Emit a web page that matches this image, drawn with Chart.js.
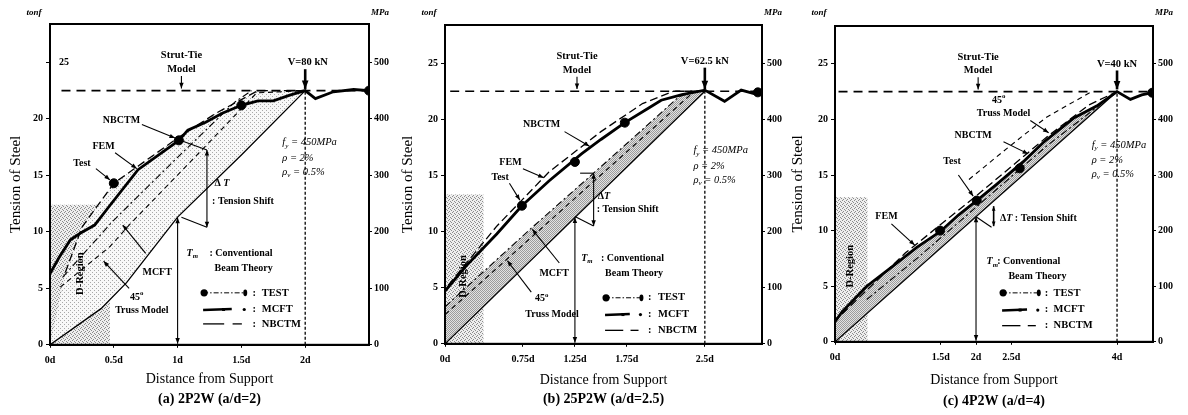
<!DOCTYPE html>
<html><head><meta charset="utf-8">
<script src="https://cdn.jsdelivr.net/npm/chart.js@4.4.1/dist/chart.umd.min.js"></script>
<style>
html,body{margin:0;padding:0;background:#fff;width:1188px;height:415px;overflow:hidden}
.p{position:absolute;top:0;height:415px}
canvas{display:block}
</style></head><body>
<div class="p" style="left:0;width:392px"><canvas id="ca" width="392" height="415"></canvas></div>
<div class="p" style="left:392px;width:390px"><canvas id="cb" width="390" height="415"></canvas></div>
<div class="p" style="left:782px;width:406px"><canvas id="cc" width="406" height="415"></canvas></div>
<script>
// ---------------- data ----------------
const FY_TONF = 22.5;          // 450 MPa expressed in tonf
const MPA_PER_TONF = 20;
const Y_MAX = 28.4;
const Y_TICKS = [0, 5, 10, 15, 20, 25];
const MPA_TICKS = [0, 100, 200, 300, 400, 500];

// (a) 2P2W (a/d=2)
const A_XTICKS = [0, 0.5, 1, 1.5, 2];
const A_LOAD = 2;
const A_TEST = [[0.5,14.3],[1.01,18.1],[1.5,21.2],[2.5,22.5]];
const A_FEM = [[0,6.3],[0.07,7.7],[0.16,9.3],[0.24,9.9],[0.35,10.6],[0.46,12.2],[0.69,15.5],[1.01,18.1],[1.08,19.0],[1.22,19.7],[1.35,20.5],[1.5,21.2],[1.63,21.6],[1.75,21.6],[1.88,22.1],[2.0,22.5],[2.08,21.8],[2.22,22.4],[2.38,22.6],[2.5,22.5]];
const A_NBCTM = [[0.12,6.4],[0.25,10.4],[0.5,14.3],[1.0,18.3],[1.3,20.5],[1.63,22.5],[2.0,22.5]];
const A_MCFT = [[0.1,6.0],[0.48,10.8],[1.0,16.6],[1.45,21.5],[1.58,22.5]];
const A_TRUSS = [[0.08,5.1],[0.47,8.7],[0.62,10.6],[1.1,16.2],[1.62,22.3],[2.0,22.5]];
const A_TM = [[0,0],[0.4,3.2],[0.6,5.5],[1.0,11.3],[1.5,16.8],[2.0,22.5]];
const A_DREGION = [0.47, 12.4];

// (b) 25P2W (a/d=2.5)
const B_XTICKS = [0, 0.75, 1.25, 1.75, 2.5];
const B_LOAD = 2.5;
const B_TEST = [[0.74,12.3],[1.25,16.2],[1.73,19.7],[3.01,22.4]];
const B_FEM = [[0,4.7],[0.2,6.9],[0.5,9.8],[0.74,12.3],[1.0,14.5],[1.31,16.9],[1.5,18.2],[1.73,19.7],[1.96,21.0],[2.08,21.7],[2.28,22.2],[2.5,22.6],[2.69,21.6],[2.85,22.6],[3.01,22.2]];
const B_NBCTM = [[0.03,5.2],[0.5,10.5],[1.0,15.3],[1.5,18.9],[1.9,21.4],[2.2,22.5],[2.5,22.5]];
const B_MCFT = [[0,3.3],[0.83,10.3],[1.6,16.6],[2.25,22.0],[2.4,22.5]];
const B_TRUSS = [[0,2.6],[2.4,22.5]];
const B_TM = [[0,0],[2.5,22.5]];
const B_DREGION = [0.37, 13.3];

// (c) 4P2W (a/d=4)
const C_XTICKS = [0, 1.5, 2, 2.5, 4];
const C_LOAD = 4;
const C_TEST = [[1.49,10.0],[2.01,12.7],[2.62,15.6],[4.5,22.4]];
const C_FEM = [[0,1.8],[0.1,2.7],[0.45,5.0],[0.78,6.6],[1.16,8.5],[1.49,9.9],[1.75,11.4],[2.01,12.7],[2.3,14.2],[2.67,16.2],[2.95,17.9],[3.38,20.1],[3.71,21.2],[4.0,22.5],[4.19,21.8],[4.35,22.2],[4.5,22.4]];
const C_NBCTM = [[0.1,2.5],[1.0,8.0],[2.0,13.1],[3.0,18.4],[3.6,21.3],[4.0,22.5]];
const C_MCFT = [[0.45,3.8],[1.2,7.7],[2.0,12.1],[3.0,17.6],[4.0,22.5]];
const C_TRUSS = [[1.9,14.6],[2.44,17.4],[3.0,20.2],[3.64,22.5]];
const C_TM = [[0,0],[4,22.5]];
const C_DREGION = [0.46, 13.0];

// ---------------- drawing helpers ----------------
const SERIF = "'Liberation Serif', 'Times New Roman', serif";
Chart.defaults.font.family = SERIF;
Chart.defaults.color = '#000';

function fontStr(size, st) {
  const it = st.indexOf('i') >= 0 ? 'italic ' : '';
  const b = st.indexOf('b') >= 0 ? 'bold ' : '';
  return it + b + size + 'px ' + SERIF;
}
function drawParts(ctx, parts, x, y, align, size) {
  let total = 0; const ms = [];
  for (const [t, st, pos] of parts) {
    const sz = pos ? size * 0.68 : size;
    ctx.font = fontStr(sz, st || 'b');
    const w = ctx.measureText(t).width;
    ms.push([t, st || 'b', pos, sz, w]); total += w;
  }
  let cx = align === 'left' ? x : align === 'right' ? x - total : x - total / 2;
  ctx.textAlign = 'left'; ctx.textBaseline = 'middle';
  for (const [t, st, pos, sz, w] of ms) {
    ctx.font = fontStr(sz, st);
    const dy = pos === 'sub' ? size * 0.32 : pos === 'sup' ? -size * 0.38 : 0;
    ctx.fillText(t, cx, y + dy); cx += w;
  }
}
function drawArrow(ctx, x1, y1, x2, y2, w, head, hs) {
  ctx.lineWidth = w; ctx.setLineDash([]);
  ctx.beginPath(); ctx.moveTo(x1, y1); ctx.lineTo(x2, y2); ctx.stroke();
  const ang = Math.atan2(y2 - y1, x2 - x1);
  const hd = (x, y, a) => {
    ctx.beginPath(); ctx.moveTo(x, y);
    ctx.lineTo(x - hs * Math.cos(a - 0.38), y - hs * Math.sin(a - 0.38));
    ctx.lineTo(x - hs * Math.cos(a + 0.38), y - hs * Math.sin(a + 0.38));
    ctx.closePath(); ctx.fill();
  };
  if (head === 'end' || head === 'both') hd(x2, y2, ang);
  if (head === 'both') hd(x1, y1, ang + Math.PI);
}
// annotation constructors
const T = (text, x, y, o = {}) => ({parts: [[text, o.st || 'b']], x, y, align: o.align || 'center', size: o.size || 10, rot: o.rot || 0});
const R = (parts, x, y, o = {}) => ({parts, x, y, align: o.align || 'left', size: o.size || 10, rot: 0});
const A = (x1, y1, x2, y2, o = {}) => ({x1, y1, x2, y2, w: o.w || 1.1, head: o.head || 'end', hs: o.hs || 6});
const L = (x1, y1, x2, y2) => ({x1, y1, x2, y2, w: 1.1, head: 'none', hs: 0});
const FY_TXT = (x, y) => [
  R([['f','i'],['y','i','sub'],[' = 450','i'],['MPa','i']], x, y, {size: 10.5}),
  R([['ρ','i'],[' = 2%','i']], x, y - 1.35, {size: 10.5}),
  R([['ρ','i'],['v','i','sub'],[' = 0.5%','i']], x, y - 2.6, {size: 10.5})
];

function pattern(size, bg, dots, col) {
  const c = document.createElement('canvas'); c.width = c.height = size;
  const g = c.getContext('2d');
  if (bg) { g.fillStyle = bg; g.fillRect(0, 0, size, size); }
  g.fillStyle = col; dots.forEach(d => g.fillRect(d[0], d[1], 1, 1));
  return g.createPattern(c, 'repeat');
}
const PAT_LIGHT = pattern(4, '#f8f8f8', [[0,0],[2,2]], '#a8a8a8');
const PAT_DREG = pattern(4, '#eeeeee', [[0,0],[2,1],[1,3],[3,2]], '#8c8c8c');
const PAT_HATCH = pattern(2, '#e2e2e2', [[0,0],[1,1]], '#9c9c9c');

// ---------------- annotations per panel ----------------
const A_ANN = {
  texts: [
    T('25', 0.11, 25.0),
    T('Strut-Tie', 1.03, 25.6, {size: 10.5}), T('Model', 1.03, 24.4, {size: 10.5}),
    T('V=80 kN', 2.02, 25.0, {size: 10.5}),
    T('NBCTM', 0.56, 19.9), T('FEM', 0.42, 17.6), T('Test', 0.25, 16.1),
    T('MCFT', 0.84, 6.4),
    R([['45','b'],['o','b','sup']], 0.68, 4.2, {align: 'center'}), T('Truss Model', 0.72, 3.0),
    ...FY_TXT(1.82, 17.9),
    R([['Δ ','b'],['T','bi']], 1.29, 14.3),
    T(': Tension Shift', 1.27, 12.7, {align: 'left'}),
    R([['T','bi'],['m','bi','sub']], 1.07, 8.1),
    T(': Conventional', 1.25, 8.1, {align: 'left'}),
    T('Beam Theory', 1.29, 6.75, {align: 'left'}),
    T('D-Region', 0.24, 6.3, {rot: -90, size: 10.5})
  ],
  arrows: [
    A(1.03, 23.8, 1.03, 22.7, {hs: 6}),
    A(2.0, 24.4, 2.0, 22.65, {w: 2.6, hs: 9}),
    A(0.72, 19.5, 0.98, 18.3), A(0.51, 17.0, 0.68, 15.6), A(0.36, 15.6, 0.47, 14.6),
    A(0.75, 8.1, 0.57, 10.6), A(0.62, 5.0, 0.42, 7.4),
    A(1.23, 17.25, 1.23, 10.4, {head: 'both'}),
    L(1.02, 18.1, 1.23, 17.25), L(1.03, 11.3, 1.23, 10.4),
    A(1.0, 0.1, 1.0, 11.25, {head: 'both'})
  ],
  legend: {ys: [4.6, 3.17, 1.85], x1: 1.2, x2: 1.53, xc: 1.6, xt: 1.66}
};
const B_ANN = {
  texts: [
    T('Strut-Tie', 1.27, 25.6, {size: 10.5}), T('Model', 1.27, 24.4, {size: 10.5}),
    T('V=62.5 kN', 2.5, 25.2, {size: 10.5}),
    T('NBCTM', 0.93, 19.5), T('FEM', 0.63, 16.2), T('Test', 0.53, 14.8),
    ...FY_TXT(2.39, 17.2),
    R([['Δ','b'],['T','bi']], 1.47, 13.1),
    T(': Tension Shift', 1.46, 12.0, {align: 'left'}),
    R([['T','bi'],['m','bi','sub']], 1.31, 7.6),
    T(': Conventional', 1.5, 7.6, {align: 'left'}),
    T('Beam Theory', 1.54, 6.25, {align: 'left'}),
    T('MCFT', 1.05, 6.3),
    R([['45','b'],['o','b','sup']], 0.93, 4.0, {align: 'center'}), T('Truss Model', 1.03, 2.6),
    T('D-Region', 0.18, 6.0, {rot: -90, size: 10.5})
  ],
  arrows: [
    A(1.27, 23.8, 1.27, 22.7),
    A(2.5, 24.6, 2.5, 22.7, {w: 2.6, hs: 9}),
    A(1.15, 18.9, 1.39, 17.6), A(0.75, 15.6, 0.95, 14.8), A(0.62, 14.3, 0.72, 12.8),
    A(1.43, 15.2, 1.43, 10.5, {head: 'both'}),
    L(1.25, 11.35, 1.43, 10.5), L(1.3, 15.2, 1.43, 15.2),
    A(1.25, 0.1, 1.25, 11.25, {head: 'both'}),
    A(1.1, 7.2, 0.84, 10.2), A(0.83, 4.6, 0.6, 7.4)
  ],
  legend: {ys: [4.1, 2.65, 1.2], x1: 1.54, x2: 1.89, xc: 1.97, xt: 2.05}
};
const C_ANN = {
  texts: [
    T('Strut-Tie', 2.03, 25.6, {size: 10.5}), T('Model', 2.03, 24.4, {size: 10.5}),
    T('V=40 kN', 4.0, 25.0, {size: 10.5}),
    R([['45','b'],['o','b','sup']], 2.32, 21.7, {align: 'center'}), T('Truss Model', 2.39, 20.5),
    T('NBCTM', 1.96, 18.6), T('Test', 1.66, 16.2), T('FEM', 0.73, 11.3),
    ...FY_TXT(3.64, 17.7),
    R([['Δ','b'],['T','bi'],[' : Tension Shift','b']], 2.34, 11.1),
    R([['T','bi'],['m','bi','sub']], 2.15, 7.2),
    T(': Conventional', 2.3, 7.2, {align: 'left'}),
    T('Beam Theory', 2.46, 5.85, {align: 'left'}),
    T('D-Region', 0.21, 6.8, {rot: -90, size: 10.5})
  ],
  arrows: [
    A(2.03, 23.8, 2.03, 22.7),
    A(4.0, 24.4, 4.0, 22.7, {w: 2.6, hs: 9}),
    A(2.77, 19.9, 3.03, 18.8), A(2.39, 18.0, 2.74, 16.9), A(1.75, 15.0, 1.96, 13.1), A(0.8, 10.6, 1.13, 8.7),
    A(2.25, 12.2, 2.25, 10.4, {head: 'both', hs: 5, w: 1.6}),
    L(2.0, 11.25, 2.22, 10.3),
    A(2.0, 0.1, 2.0, 11.25, {head: 'both'})
  ],
  legend: {ys: [4.4, 2.9, 1.45], x1: 2.37, x2: 2.89, xc: 3.0, xt: 3.1}
};

// ---------------- panels ----------------
const PANELS = [
  {canvas: 'ca', xMax: 2.5, top: 24, yW: 50, y2W: 23, xH: 44.4, xTitlePad: 1, capPad: 7, caption: '(a) 2P2W (a/d=2)', hide25: true,
   xticks: A_XTICKS, load: A_LOAD, stmStart: 0.09, test: A_TEST, fem: A_FEM, nbctm: A_NBCTM, mcft: A_MCFT, truss: A_TRUSS, tm: A_TM,
   dreg: A_DREGION, bandUpper: A_NBCTM, bandPat: PAT_LIGHT, ann: A_ANN},
  {canvas: 'cb', xMax: 3.05, top: 25, yW: 53, y2W: 20, xH: 45.4, xTitlePad: 0, capPad: 7, caption: '(b) 25P2W (a/d=2.5)', hide25: false,
   xticks: B_XTICKS, load: B_LOAD, stmStart: 0.05, test: B_TEST, fem: B_FEM, nbctm: B_NBCTM, mcft: B_MCFT, truss: B_TRUSS, tm: B_TM,
   dreg: B_DREGION, bandUpper: B_MCFT, bandPat: PAT_HATCH, ann: B_ANN},
  {canvas: 'cc', xMax: 4.51, top: 26, yW: 53, y2W: 35, xH: 49.4, xTitlePad: 2, capPad: 5, caption: '(c) 4P2W (a/d=4)', hide25: false,
   xticks: C_XTICKS, load: C_LOAD, stmStart: 0.05, test: C_TEST, fem: C_FEM, nbctm: C_NBCTM, mcft: C_MCFT, truss: C_TRUSS, tm: C_TM,
   dreg: C_DREGION, bandUpper: C_FEM.filter(p => p[0] <= C_LOAD), bandPat: PAT_HATCH, ann: C_ANN}
];

const toXY = pts => pts.map(p => ({x: p[0], y: p[1]}));
function ds(pts, o) {
  return Object.assign({data: toXY(pts), borderColor: '#000', backgroundColor: '#000', borderWidth: 1,
    pointRadius: 0, fill: false, tension: 0, order: 1}, o);
}

function makeAnnot(P) {
  return {
    id: 'annot_' + P.canvas,
    afterDatasetsDraw(chart) {
      const ctx = chart.ctx, xs = chart.scales.x, ys = chart.scales.y, ca = chart.chartArea;
      const X = v => xs.getPixelForValue(v), Y = v => ys.getPixelForValue(v);
      ctx.save();
      ctx.strokeStyle = '#000'; ctx.fillStyle = '#000'; ctx.setLineDash([]);
      ctx.lineWidth = 2;
      ctx.strokeRect(ca.left, ca.top, ca.right - ca.left, ca.bottom - ca.top);
      // unit labels
      drawParts(ctx, [['tonf', 'bi']], ca.left - 16, 13, 'center', 9);
      drawParts(ctx, [['MPa', 'bi']], ca.right + 11, 13, 'center', 9);
      for (const a of P.ann.arrows) drawArrow(ctx, X(a.x1), Y(a.y1), X(a.x2), Y(a.y2), a.w, a.head, a.hs);
      for (const t of P.ann.texts) {
        if (t.rot) {
          ctx.save(); ctx.translate(X(t.x), Y(t.y)); ctx.rotate(t.rot * Math.PI / 180);
          drawParts(ctx, t.parts, 0, 0, t.align, t.size); ctx.restore();
        } else drawParts(ctx, t.parts, X(t.x), Y(t.y), t.align, t.size);
      }
      // legend block
      const lg = P.ann.legend, x1 = X(lg.x1), x2 = X(lg.x2), len = x2 - x1;
      const names = ['TEST', 'MCFT', 'NBCTM'];
      lg.ys.forEach((yv, i) => {
        const y = Y(yv);
        ctx.lineWidth = 1;
        if (i === 0) {
          ctx.setLineDash([5, 2, 1.5, 2]);
          ctx.beginPath(); ctx.moveTo(x1, y); ctx.lineTo(x2, y); ctx.stroke(); ctx.setLineDash([]);
          ctx.beginPath(); ctx.arc(x1 + 1, y, 3.6, 0, Math.PI * 2); ctx.fill();
          ctx.beginPath(); ctx.ellipse(x2, y, 2, 3.4, 0, 0, Math.PI * 2); ctx.fill();
        } else if (i === 1) {
          ctx.lineWidth = 2.6;
          ctx.beginPath(); ctx.moveTo(x1, y + 1); ctx.lineTo(x1 + len * 0.68, y); ctx.stroke();
          ctx.fillRect(x1 + len * 0.45, y - 1, 3, 3);
          ctx.beginPath(); ctx.arc(x2 - 1, y + 0.5, 1.6, 0, Math.PI * 2); ctx.fill();
        } else {
          ctx.lineWidth = 1.3;
          ctx.beginPath(); ctx.moveTo(x1, y); ctx.lineTo(x1 + len * 0.5, y); ctx.stroke();
          ctx.beginPath(); ctx.moveTo(x1 + len * 0.7, y); ctx.lineTo(x1 + len * 0.92, y); ctx.stroke();
        }
        drawParts(ctx, [[':', 'b']], X(lg.xc), y, 'center', 10.5);
        drawParts(ctx, [[names[i], 'b']], X(lg.xt), y, 'left', 10.5);
      });
      ctx.restore();
    }
  };
}

const tickFont = {family: SERIF, size: 10, weight: 'bold'};
for (const P of PANELS) {
  const [dw, dh] = P.dreg;
  const polyD = [[0, 0], [0, dh], [dw, dh], [dw, 0]];
  const band = P.bandUpper.concat(P.tm.slice().reverse());
  const datasets = [
    ds(polyD, {fill: 'shape', borderColor: 'rgba(0,0,0,0)', backgroundColor: PAT_DREG, order: 20}),
    ds(band, {fill: 'shape', borderColor: 'rgba(0,0,0,0)', backgroundColor: P.bandPat, order: 19}),
    ds([[P.stmStart, FY_TONF], [P.xMax, FY_TONF]], {borderWidth: 1.6, borderDash: [9, 6]}),
    ds([[P.load, 0], [P.load, FY_TONF]], {borderWidth: 1.3, borderDash: [3, 2]}),
    ds(P.tm, {borderWidth: 1.3}),
    ds(P.truss, {borderWidth: 1.1, borderDash: [5, 4]}),
    ds(P.mcft, {borderWidth: 1.1, borderDash: [7, 3, 2, 3]}),
    ds(P.nbctm, {borderWidth: 1.3, borderDash: [8, 4]}),
    ds(P.fem, {borderWidth: 2.8}),
    ds(P.test, {showLine: false, pointRadius: 4.5, pointStyle: 'circle', order: 0})
  ];
  new Chart(document.getElementById(P.canvas), {
    type: 'line',
    data: {datasets},
    options: {
      responsive: false, animation: false, events: [],
      layout: {padding: {top: P.top, left: 0, right: 0, bottom: 0}},
      plugins: {
        legend: {display: false}, tooltip: {enabled: false},
        title: {display: true, position: 'bottom', fullSize: false, text: P.caption,
          font: {family: SERIF, size: 14, weight: 'bold'}, color: '#000', padding: {top: 2, bottom: P.capPad}}
      },
      scales: {
        x: {
          type: 'linear', min: 0, max: P.xMax,
          afterBuildTicks: s => { s.ticks = P.xticks.map(v => ({value: v})); },
          afterFit: s => { s.height = P.xH; },
          ticks: {font: tickFont, color: '#000', padding: 7, maxRotation: 0, autoSkip: false, callback: v => v + 'd'},
          grid: {display: true, drawOnChartArea: false, drawTicks: true, tickLength: 3, color: '#000'},
          border: {display: true, color: '#000', width: 2},
          title: {display: true, text: 'Distance from Support', font: {family: SERIF, size: 14}, color: '#000', padding: {top: 0, bottom: P.xTitlePad}}
        },
        y: {
          type: 'linear', position: 'left', min: 0, max: Y_MAX,
          afterBuildTicks: s => { s.ticks = Y_TICKS.map(v => ({value: v})); },
          afterFit: s => { s.width = P.yW; },
          ticks: {font: tickFont, color: '#000', padding: 3, callback: v => (P.hide25 && v === 25) ? '' : String(v)},
          grid: {display: true, drawOnChartArea: false, drawTicks: true, tickLength: 4, color: '#000'},
          border: {display: true, color: '#000', width: 2},
          title: {display: true, text: 'Tension of Steel', font: {family: SERIF, size: 15}, color: '#000', padding: {top: 7, bottom: 0}}
        },
        y2: {
          type: 'linear', position: 'right', min: 0, max: Y_MAX * MPA_PER_TONF,
          afterBuildTicks: s => { s.ticks = MPA_TICKS.map(v => ({value: v})); },
          afterFit: s => { s.width = P.y2W; },
          ticks: {font: tickFont, color: '#000', padding: 2},
          grid: {display: true, drawOnChartArea: false, drawTicks: true, tickLength: 3, color: '#000'},
          border: {display: true, color: '#000', width: 2}
        }
      }
    },
    plugins: [makeAnnot(P)]
  });
}
</script>
</body></html>
